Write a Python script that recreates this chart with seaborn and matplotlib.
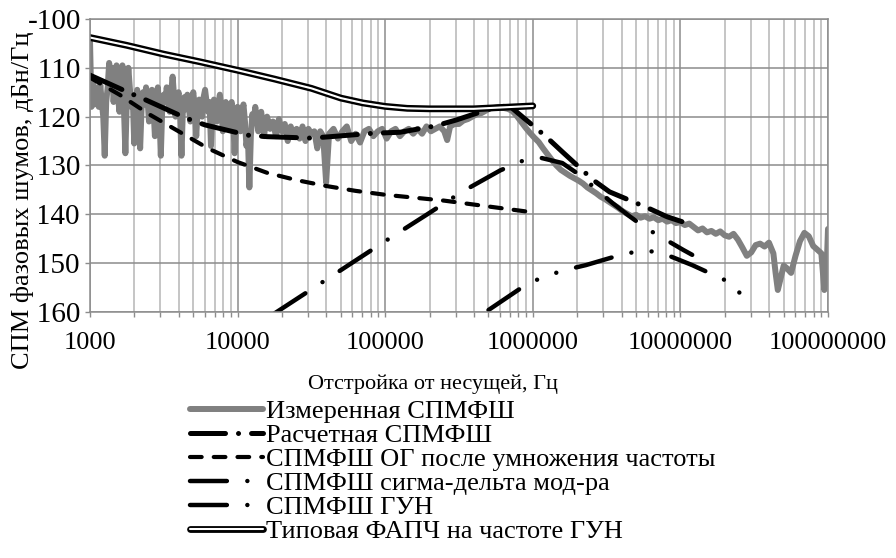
import numpy as np
import seaborn as sns
import matplotlib
matplotlib.use("Agg")
import matplotlib.pyplot as plt
import matplotlib.ticker as mticker
import matplotlib.patheffects as pe

# ---- data: log10(offset, Hz) and phase noise, dBc/Hz ----
meas_logf = [3.00, 3.01, 3.02, 3.03, 3.04, 3.05, 3.06, 3.07, 3.08, 3.09,
             3.10, 3.11, 3.12, 3.13, 3.14, 3.15, 3.16, 3.17, 3.18, 3.19,
             3.20, 3.21, 3.22, 3.23, 3.24, 3.25, 3.26, 3.27, 3.28, 3.29,
             3.30, 3.31, 3.32, 3.33, 3.34, 3.35, 3.36, 3.37, 3.38, 3.39,
             3.40, 3.41, 3.42, 3.43, 3.44, 3.45, 3.46, 3.47, 3.48, 3.49,
             3.50, 3.51, 3.52, 3.53, 3.54, 3.55, 3.56, 3.57, 3.58, 3.59,
             3.60, 3.61, 3.62, 3.63, 3.64, 3.65, 3.66, 3.67, 3.68, 3.69,
             3.70, 3.71, 3.72, 3.73, 3.74, 3.75, 3.76, 3.77, 3.78, 3.79,
             3.80, 3.81, 3.82, 3.83, 3.84, 3.85, 3.86, 3.87, 3.88, 3.89,
             3.90, 3.91, 3.92, 3.93, 3.94, 3.95, 3.96, 3.97, 3.98, 3.99,
             4.00, 4.01, 4.02, 4.03, 4.04, 4.05, 4.06, 4.07, 4.08, 4.09,
             4.10, 4.11, 4.12, 4.13, 4.14, 4.15, 4.16, 4.17, 4.18, 4.19,
             4.20, 4.22, 4.24, 4.26, 4.28, 4.30, 4.32, 4.34, 4.36, 4.38,
             4.40, 4.42, 4.44, 4.46, 4.48, 4.50, 4.52, 4.54, 4.56, 4.58,
             4.60, 4.62, 4.65, 4.68, 4.71, 4.74, 4.77, 4.80, 4.83, 4.86,
             4.89, 4.92, 4.95, 4.98, 5.01, 5.04, 5.07, 5.10, 5.13, 5.16,
             5.19, 5.22, 5.25, 5.28, 5.31, 5.34, 5.37, 5.40, 5.42, 5.44,
             5.47, 5.50, 5.53, 5.56, 5.59, 5.62, 5.65, 5.68, 5.71, 5.74,
             5.77, 5.80, 5.83, 5.86, 5.89, 5.92, 5.95, 5.98, 6.01, 6.04,
             6.07, 6.10, 6.13, 6.16, 6.19, 6.22, 6.25, 6.28, 6.31, 6.34,
             6.37, 6.40, 6.43, 6.46, 6.49, 6.52, 6.55, 6.58, 6.61, 6.64,
             6.67, 6.70, 6.73, 6.76, 6.79, 6.82, 6.85, 6.88, 6.91, 6.94,
             6.97, 7.00, 7.03, 7.06, 7.09, 7.12, 7.15, 7.18, 7.21, 7.24,
             7.27, 7.30, 7.33, 7.36, 7.39, 7.42, 7.45, 7.48, 7.51, 7.54,
             7.57, 7.60, 7.63, 7.645, 7.66, 7.68, 7.70, 7.72, 7.75, 7.78,
             7.81, 7.84, 7.87, 7.90, 7.93, 7.955, 7.975, 7.99, 8.00]
meas_db = [-104.0, -118.0, -113.0, -117.5, -114.0, -116.0, -118.0, -113.5, -117.0, -120.0,
           -128.0, -117.0, -114.0, -109.0, -112.0, -110.0, -117.0, -113.0, -109.5, -116.0,
           -119.0, -112.0, -109.5, -118.0, -127.5, -116.0, -110.0, -114.0, -118.0, -116.0,
           -125.5, -117.0, -114.5, -119.0, -126.5, -118.0, -115.0, -117.5, -114.0, -116.5,
           -121.0, -116.0, -114.5, -118.0, -124.0, -117.0, -114.0, -119.0, -128.0, -118.0,
           -115.5, -117.0, -114.0, -116.5, -119.0, -115.0, -111.8, -116.0, -120.0, -117.0,
           -115.0, -119.0, -128.0, -118.0, -116.0, -118.5, -115.5, -118.0, -121.0, -117.0,
           -115.0, -118.0, -124.0, -118.5, -116.5, -118.0, -120.0, -116.0, -114.5, -117.0,
           -119.0, -117.0, -126.0, -119.0, -116.5, -118.0, -121.0, -117.5, -115.5, -118.0,
           -123.0, -119.0, -117.0, -119.0, -122.0, -118.0, -117.0, -120.0, -127.5, -120.0,
           -118.0, -121.0, -123.0, -119.0, -117.5, -121.0, -126.0, -124.0, -134.5, -124.0,
           -119.5, -121.0, -118.0, -120.5, -123.0, -120.0, -119.0, -121.5, -124.0, -121.0,
           -120.0, -122.5, -121.0, -124.0, -120.5, -123.0, -121.5, -125.0, -122.0, -124.0,
           -122.5, -124.5, -122.0, -125.0, -122.5, -123.5, -123.0, -126.5, -123.0, -124.0,
           -133.5, -123.5, -122.5, -124.5, -123.0, -122.0, -125.0, -123.5, -125.3, -123.0,
           -122.5, -124.0, -123.0, -122.5, -124.5, -123.0, -122.5, -124.0, -123.0, -122.5,
           -123.5, -122.5, -123.5, -122.0, -123.0, -122.5, -122.0, -123.0, -124.8, -122.0,
           -121.5, -121.5, -120.8, -120.5, -120.0, -119.5, -119.3, -118.8, -118.3, -118.2,
           -118.0, -118.2, -118.4, -118.8, -119.8, -121.0, -122.2, -123.3, -124.3, -125.2,
           -126.5, -127.7, -128.9, -130.0, -130.9, -131.5, -132.1, -132.6, -133.1, -133.7,
           -134.5, -135.1, -135.7, -136.4, -136.9, -137.5, -138.1, -138.7, -139.4, -139.9,
           -140.4, -140.1, -140.7, -140.4, -140.9, -140.6, -141.2, -140.9, -141.5, -141.2,
           -141.8, -141.6, -142.2, -141.9, -142.6, -143.3, -142.9, -143.7, -143.4, -144.0,
           -143.5, -144.3, -144.6, -144.0, -145.2, -146.8, -148.5, -147.8, -146.3, -146.0,
           -146.6, -145.8, -148.0, -152.0, -155.5, -153.0, -150.5, -151.0, -152.0, -148.5,
           -145.5, -143.8, -144.5, -146.5, -147.3, -148.0, -155.5, -152.0, -143.0]

calc_logf = [3.00, 3.25, 3.38, 3.65, 3.78, 4.07, 4.20, 4.50, 4.63, 4.92,
             5.10, 5.34, 5.48, 5.70, 5.80, 5.85, 6.09, 6.20, 6.41, 6.52,
             6.78, 6.91, 7.01]
calc_db = [-111.5, -114.9, -116.6, -120.3, -121.7, -123.8, -124.1, -124.4, -124.1, -123.4,
           -123.2, -121.9, -120.7, -118.5, -117.9, -118.0, -124.1, -127.2, -133.0, -135.4,
           -138.7, -140.5, -141.5]

ref_logf = [3.0, 3.2, 3.4, 3.6, 3.8, 4.0, 4.2, 4.4, 4.6, 4.8,
            5.0, 5.2, 5.4, 5.6, 5.8, 6.0]
ref_db = [-112.0, -115.5, -119.5, -123.0, -126.5, -129.3, -131.5, -133.0, -134.2, -135.2,
          -136.0, -136.6, -137.2, -138.0, -138.8, -139.6]

sd_logf = [4.25, 4.60, 5.00, 5.28, 5.52, 5.78, 5.95, 6.05, 6.20, 6.32,
           6.54, 6.66, 6.77, 7.02, 7.08]
sd_db = [-160.3, -153.4, -145.5, -140.1, -135.4, -131.0, -128.8, -128.4, -129.5, -132.0,
         -137.7, -140.5, -142.9, -147.3, -148.3]

vco_logf = [5.70, 5.94, 6.07, 6.22, 6.36, 6.63, 6.78, 6.94, 7.08, 7.34, 7.44]
vco_db = [-159.6, -154.7, -152.8, -151.4, -150.4, -148.0, -147.4, -148.7, -150.4, -154.0, -157.4]

pll_logf = [3.00, 3.25, 3.50, 3.75, 4.00, 4.25, 4.50, 4.70, 4.85, 5.00,
            5.15, 5.30, 5.60, 5.80, 6.00]
pll_db = [-103.8, -105.4, -107.2, -108.8, -110.5, -112.3, -114.2, -116.2, -117.2, -117.9,
          -118.3, -118.4, -118.4, -118.1, -117.8]

labels = ["Измеренная СПМФШ",
          "Расчетная СПМФШ",
          "СПМФШ ОГ после умножения частоты",
          "СПМФШ сигма-дельта мод-ра",
          "СПМФШ ГУН",
          "Типовая ФАПЧ на частоте ГУН"]

x_ticks = [1e3, 1e4, 1e5, 1e6, 1e7, 1e8]
x_tick_labels = ["1000", "10000", "100000", "1000000", "10000000", "100000000"]
y_ticks = [-100, -110, -120, -130, -140, -150, -160]
x_label = "Отстройка от несущей, Гц"
y_label = "СПМ фазовых шумов, дБн/Гц"

sns.set_theme(style="white")
plt.rcParams['font.family'] = ['Liberation Serif', 'DejaVu Serif']
plt.rcParams['axes.unicode_minus'] = False
plt.rcParams['text.color'] = 'black'
plt.rcParams['axes.labelcolor'] = 'black'
plt.rcParams['xtick.labelcolor'] = 'black'
plt.rcParams['ytick.labelcolor'] = 'black'

fig = plt.figure(figsize=(8.96, 5.58), dpi=100)
ax = fig.add_axes([0.1004, 0.4409, 0.8237, 0.5251])

def hz(logf):
    return 10 ** np.array(logf)

sns.lineplot(x=hz(meas_logf), y=meas_db, ax=ax, color='#808080', linewidth=4.3,
             label=labels[0], sort=False, errorbar=None, solid_capstyle='round',
             solid_joinstyle='round')
sns.lineplot(x=hz(calc_logf), y=calc_db, ax=ax, color='black', linewidth=3.6,
             linestyle=(0, (7, 2.6, 0.01, 2.6)), dash_capstyle='round',
             label=labels[1], sort=False, errorbar=None)
sns.lineplot(x=hz(ref_logf), y=ref_db, ax=ax, color='black', linewidth=3.0,
             linestyle=(0, (2.8, 2.9)), dash_capstyle='round',
             label=labels[2], sort=False, errorbar=None)
sns.lineplot(x=hz(sd_logf), y=sd_db, ax=ax, color='black', linewidth=3.2,
             linestyle=(0, (8.3, 4.6, 0.01, 4.6)), dash_capstyle='round',
             label=labels[3], sort=False, errorbar=None)
sns.lineplot(x=hz(vco_logf), y=vco_db, ax=ax, color='black', linewidth=3.2,
             linestyle=(0, (8.3, 4.6, 0.01, 4.6, 0.01, 4.6)), dash_capstyle='round',
             label=labels[4], sort=False, errorbar=None)
sns.lineplot(x=hz(pll_logf), y=pll_db, ax=ax, color='white', linewidth=1.5,
             solid_capstyle='round', label=labels[5], sort=False, errorbar=None,
             path_effects=[pe.Stroke(linewidth=4.9, foreground='black', capstyle='round'),
                           pe.Normal()])

ax.set_xscale('log')
ax.set_xlim(1e3, 1e8)
ax.set_ylim(-160, -100)
ax.set_xticks(x_ticks)
ax.set_xticklabels(x_tick_labels)
ax.xaxis.set_minor_locator(mticker.LogLocator(base=10, subs=np.arange(2, 10), numticks=50))
ax.xaxis.set_minor_formatter(mticker.NullFormatter())
ax.set_yticks(y_ticks)
ax.set_yticklabels([str(v) for v in y_ticks])

grid_major = '#8c8c8c'
grid_minor = '#b5b5b5'
ax.grid(True, which='major', color=grid_major, linewidth=1.1)
ax.grid(True, which='minor', axis='x', color=grid_minor, linewidth=1.1)
ax.set_axisbelow(True)
for sp in ax.spines.values():
    sp.set_color(grid_major)
    sp.set_linewidth(1.1)

ax.tick_params(axis='x', which='both', bottom=True, direction='out', length=3.6,
               width=1.0, color=grid_major, labelsize=19, pad=11)
ax.tick_params(axis='y', which='major', left=True, direction='out', length=3.6,
               width=1.0, color=grid_major, labelsize=21, pad=3)

ax.set_xlabel(x_label, fontsize=16)
ax.xaxis.set_label_coords(0.465, -0.215)
# white box of the axis title hides the minus signs, as in the source chart
ax.set_ylabel(y_label, fontsize=19,
              bbox=dict(facecolor='white', edgecolor='none', pad=4))
ax.yaxis.set_label_coords(-0.076, 0.383)

ax.legend(loc='upper left', bbox_to_anchor=(190 / 896, 1 - 400 / 558),
          bbox_transform=fig.transFigure, frameon=False, fontsize=19,
          handlelength=2.75, handletextpad=0.12, labelspacing=0.02,
          borderpad=0, borderaxespad=0)

fig.savefig('out.png', dpi=100)
